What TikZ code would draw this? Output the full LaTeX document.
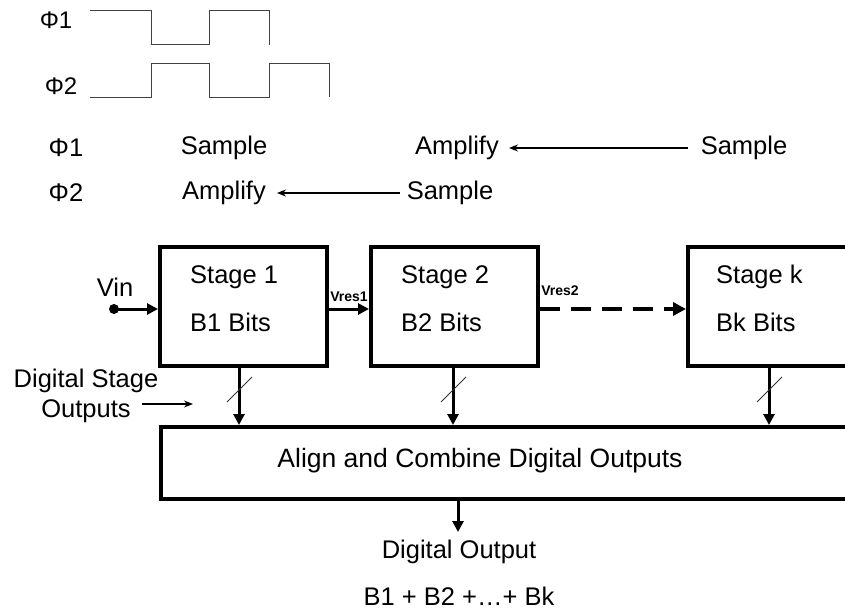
\documentclass[tikz,border=0pt]{standalone}
\usepackage{fontspec}
\setmainfont{Liberation Sans}
\usetikzlibrary{arrows.meta}
\begin{document}
\begin{tikzpicture}[x=1pt,y=-1pt,
  txt/.style={font=\fontsize{25.5}{30}\selectfont, inner sep=0pt},
  ctxt/.style={font=\fontsize{24}{28}\selectfont, inner sep=0pt},
  small/.style={font=\bfseries\fontsize{14}{16}\selectfont, inner sep=0pt},
  wave/.style={draw=black!75, line width=1pt},
  stagebox/.style={draw, line width=4pt, minimum width=167pt, minimum height=119pt, inner sep=0pt},
  thinarrow/.style={line width=1.5pt, -{Stealth[width=7pt,length=9pt]}},
  busarrow/.style={line width=3pt, -{Triangle[width=11pt,length=11pt]}},
  slashmark/.style={line width=0.8pt, draw=black!80}
]
\useasboundingbox (0,0) rectangle (845,610);
\clip (0,0) rectangle (845,610);

% clock waveforms
\node[ctxt] (p1) at (56,20) {Φ1};
\node[ctxt] (p2) at (61,86) {Φ2};
\draw[wave] (90,11) -- (151,11) -- (151,45) -- (209,45) -- (209,11) -- (269,11) -- (269,45);
\draw[wave] (90,97) -- (151,97) -- (151,63) -- (209,63) -- (209,97) -- (269,97) -- (269,63) -- (329,63) -- (329,97);

% phase table
\node[txt] (r1p) at (66,148) {Φ1};
\node[txt] (r1s) at (224,148) {Sample};
\node[txt] (r1a) at (457,148) {Amplify};
\node[txt] (r1t) at (744,148) {Sample};
\node[txt] (r2p) at (66,193) {Φ2};
\node[txt] (r2a) at (224,193) {Amplify};
\node[txt] (r2s) at (450,193) {Sample};
\coordinate (a1s) at (688,148);
\coordinate (a1e) at (509,148);
\coordinate (a2s) at (400,193);
\coordinate (a2e) at (277,193);
\draw[thinarrow] (a1s) -- (a1e);
\draw[thinarrow] (a2s) -- (a2e);

% stages
\node[stagebox] (s1) at (243.5,306.5) {};
\node[stagebox] (s2) at (454.5,306.5) {};
\node[stagebox, minimum width=200pt, anchor=west] (sk) at (686,306.5) {};
\node[txt, anchor=west] (s1a) at (190,277) {Stage 1};
\node[txt, anchor=west] (s1b) at (190,322) {B1 Bits};
\node[txt, anchor=west] (s2a) at (401,277) {Stage 2};
\node[txt, anchor=west] (s2b) at (401,322) {B2 Bits};
\node[txt, anchor=west] (ska) at (716,277) {Stage k};
\node[txt, anchor=west] (skb) at (716,322) {Bk Bits};

% input
\node[txt] (vin) at (115,287) {Vin};
\coordinate (vdot) at (114,309);
\fill (vdot) circle (5pt);
\draw[line width=3pt, -{Triangle[width=11pt,length=11pt]}] (vdot) -- (s1.west |- vdot);

% residues
\node[small] (vr1) at (349,297) {Vres1};
\node[small] (vr2) at (560,291) {Vres2};
\draw[line width=3pt, -{Triangle[width=11pt,length=11pt]}] ([yshift=-2.5pt]s1.east) -- ([yshift=-2.5pt]s2.west);
\draw[line width=4pt, dash pattern=on 20pt off 11pt, -{Triangle[width=13pt,length=13pt]}] ([yshift=-2.5pt]s2.east) -- ([yshift=-2.5pt]sk.west);

% align box
\node[draw, line width=4pt, minimum width=760pt, minimum height=72pt, anchor=north west, inner sep=0pt] (al) at (159,425) {};
\node[txt, font=\fontsize{26.5}{31}\selectfont] (alt) at (480,461) {Align and Combine Digital Outputs};

% digital stage outputs
\coordinate (d1) at (239,366);
\coordinate (d2) at (453,366);
\coordinate (dk) at (769,366);
\draw[busarrow] (d1) -- (d1 |- al.north);
\draw[busarrow] (d2) -- (d2 |- al.north);
\draw[busarrow] (dk) -- (dk |- al.north);
\foreach \xx in {239,453,769} {
  \draw[slashmark] (\xx-12,402) -- (\xx+13,377);
}
\node[txt, align=center] (dso) at (86,396) {Digital Stage\\Outputs};
\coordinate (dsoa) at (142,404);
\coordinate (dsob) at (193,404);
\draw[thinarrow, line width=1.2pt] (dsoa) -- (dsob);

% output
\node[txt] (dout) at (459,552) {Digital Output};
\node[txt] (sum) at (459,596) {B1 + B2 +…+ Bk};
\coordinate (otip) at (458,532);
\draw[busarrow] (al.south -| otip) -- (otip);
\end{tikzpicture}
\end{document}
